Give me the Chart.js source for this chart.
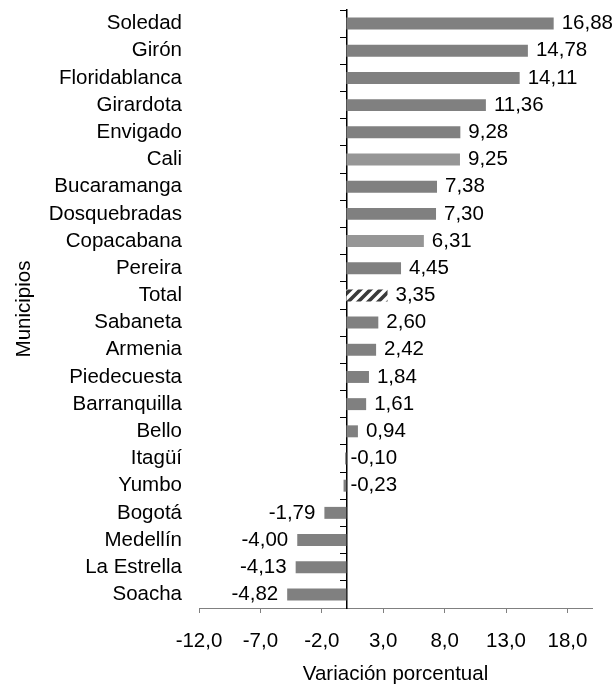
<!DOCTYPE html>
<html>
<head>
<meta charset="utf-8">
<script src="https://cdn.jsdelivr.net/npm/chart.js@4/dist/chart.umd.min.js"></script>
<style>
  html, body { margin: 0; padding: 0; background: #fff; }
  #wrap { width: 615px; height: 688px; }
</style>
</head>
<body>
<div id="wrap"><canvas id="c" width="615" height="688"></canvas></div>
<script>
// Municipios ordenados por variación porcentual
const municipios = ['Soledad', 'Girón', 'Floridablanca', 'Girardota', 'Envigado', 'Cali',
  'Bucaramanga', 'Dosquebradas', 'Copacabana', 'Pereira', 'Total', 'Sabaneta', 'Armenia',
  'Piedecuesta', 'Barranquilla', 'Bello', 'Itagüí', 'Yumbo', 'Bogotá', 'Medellín',
  'La Estrella', 'Soacha'];
const variacion = [16.88, 14.78, 14.11, 11.36, 9.28, 9.25, 7.38, 7.30, 6.31, 4.45, 3.35,
  2.60, 2.42, 1.84, 1.61, 0.94, -0.10, -0.23, -1.79, -4.00, -4.13, -4.82];
const xTicks = [-12, -7, -2, 3, 8, 13, 18];
const destacados = ['Cali', 'Copacabana'];
const agregado = 'Total';

const FONT = { family: '"Liberation Sans", Arial, sans-serif', size: 20.5 };
const fmt = (v, d) => Number(v).toFixed(d).replace('.', ',');

// Diagonal hatch used for the aggregate bar
function rayado() {
  const c = document.createElement('canvas');
  c.width = 10; c.height = 10;
  const g = c.getContext('2d');
  g.fillStyle = '#ffffff';
  g.fillRect(0, 0, 10, 10);
  g.strokeStyle = '#3a3a3a';
  g.lineWidth = 3.6;
  g.beginPath();
  g.moveTo(0, 10); g.lineTo(10, 0);
  g.moveTo(-5, 5); g.lineTo(5, -5);
  g.moveTo(5, 15); g.lineTo(15, 5);
  g.stroke();
  return g.createPattern(c, 'repeat');
}
const trama = rayado();
const colores = municipios.map(m =>
  m === agregado ? trama : (destacados.includes(m) ? '#969696' : '#808080'));

// Value labels at the end of each bar
const etiquetas = {
  id: 'etiquetas',
  afterDatasetsDraw(chart) {
    const { ctx } = chart;
    const meta = chart.getDatasetMeta(0);
    ctx.save();
    ctx.font = `${FONT.size}px ${FONT.family}`;
    ctx.fillStyle = '#000';
    ctx.textBaseline = 'middle';
    meta.data.forEach((bar, i) => {
      const v = variacion[i];
      const txt = fmt(v, 2);
      if (v < -0.5) {
        ctx.textAlign = 'right';
        ctx.fillText(txt, Math.min(bar.x, bar.base) - 9, bar.y);
      } else {
        ctx.textAlign = 'left';
        const gap = v >= 0 ? 8 : 4;
        ctx.fillText(txt, Math.max(bar.x, bar.base) + gap, bar.y);
      }
    });
    ctx.restore();
  }
};

const sinMargenVertical = s => { s.paddingTop = 0; s.paddingBottom = 0; };

new Chart(document.getElementById('c'), {
  type: 'bar',
  data: {
    labels: municipios,
    datasets: [{
      data: variacion,
      backgroundColor: colores,
      borderWidth: 0,
      barPercentage: 0.44,
      categoryPercentage: 1,
      yAxisID: 'y'
    }]
  },
  options: {
    indexAxis: 'y',
    responsive: false,
    animation: false,
    devicePixelRatio: 1,
    layout: { padding: { top: 10, right: 23, bottom: 0, left: 0 } },
    plugins: { legend: { display: false }, tooltip: { enabled: false } },
    scales: {
      x: {
        type: 'linear',
        min: -12,
        max: 20,
        afterBuildTicks: s => { s.ticks = xTicks.map(v => ({ value: v })); },
        grid: { drawOnChartArea: false, drawTicks: true, tickLength: 5, color: '#808080' },
        border: { color: '#808080', width: 1 },
        ticks: { padding: 16, color: '#000', font: FONT, autoSkip: false, maxRotation: 0,
                 callback: v => fmt(v, 1) },
        title: { display: true, text: 'Variación porcentual', color: '#000', font: FONT,
                 padding: { top: 9, bottom: 1 } },
        afterFit: s => { s.height = 80; }
      },
      y: {
        type: 'category',
        position: 'left',
        grid: { display: false, drawTicks: false },
        border: { display: false },
        ticks: { padding: 17, color: '#000', font: FONT, autoSkip: false },
        title: { display: true, text: 'Municipios', color: '#000', font: FONT,
                 padding: { top: 12, bottom: 0 } },
        afterFit: s => { s.width = 199; sinMargenVertical(s); }
      },
      yCero: {
        type: 'category',
        axis: 'y',
        position: { x: 0 },
        offset: true,
        z: 1,
        grid: { offset: true, drawOnChartArea: false, drawTicks: true, tickLength: 6,
                color: '#000', lineWidth: 1 },
        border: { color: '#000', width: 1.5 },
        ticks: { display: false },
        afterFit: sinMargenVertical
      }
    }
  },
  plugins: [etiquetas]
});
</script>
</body>
</html>
